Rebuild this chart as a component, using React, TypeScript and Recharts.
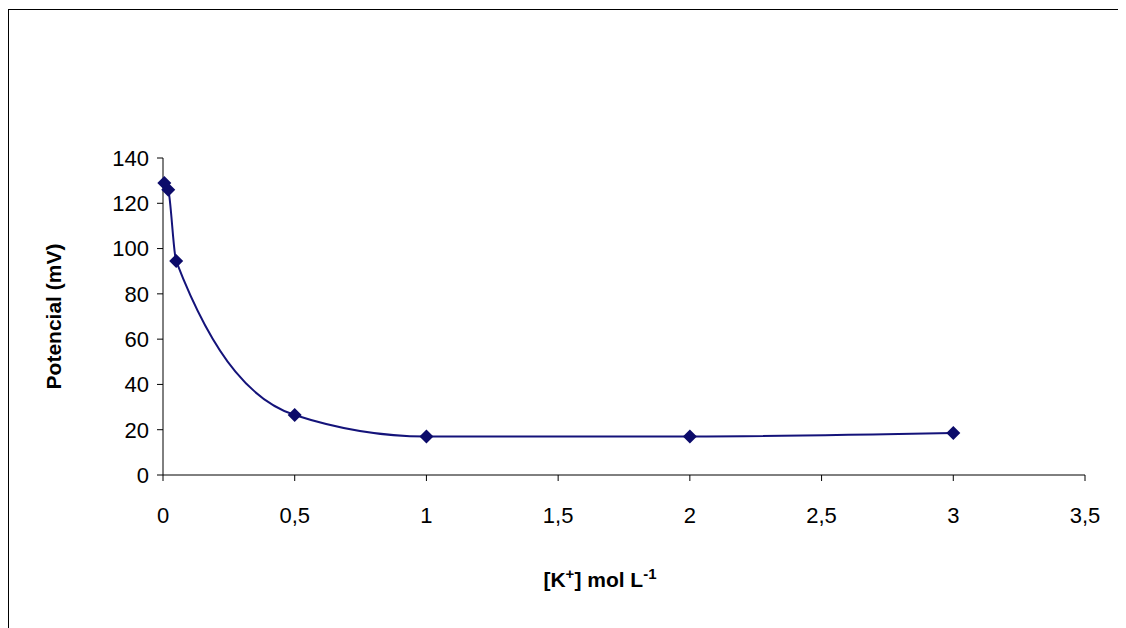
import React from 'react';
import { LineChart, Line, XAxis, YAxis } from 'recharts';

const concentrations = [0.005, 0.02, 0.05, 0.5, 1, 2, 3];
const potentials = [129, 126, 94.5, 26.5, 17, 17, 18.5];
const xTicks = [0, 0.5, 1, 1.5, 2, 2.5, 3, 3.5];
const yTicks = [0, 20, 40, 60, 80, 100, 120, 140];

const data = concentrations.map((k, i) => ({ k, mv: potentials[i] }));

const font = 'Arial, "Liberation Sans", sans-serif';
const navy = '#14137a';

const Diamond = (props: { cx?: number; cy?: number; index?: number }) => {
  const { cx = 0, cy = 0 } = props;
  const r = 7;
  return (
    <path
      key={props.index}
      d={`M${cx},${cy - r}L${cx + r},${cy}L${cx},${cy + r}L${cx - r},${cy}Z`}
      fill="#0c0b6a"
    />
  );
};

const fmt = (v: number) => String(v).replace('.', ',');

export default function App() {
  return (
    <div style={{ width: 1112, height: 620, border: '1px solid #000', marginTop: 1 }}>
      <LineChart width={1112} height={618} data={data} margin={{ top: 148, right: 36, left: 0, bottom: 0 }}>
        <XAxis
          dataKey="k"
          type="number"
          domain={[0, 3.5]}
          ticks={xTicks}
          tickFormatter={fmt}
          height={153}
          axisLine={{ stroke: '#000' }}
          tickLine={{ stroke: '#000' }}
          tickSize={6}
          tick={{ fill: '#000', fontSize: 22, fontFamily: font, dy: 24 }}
          label={({ viewBox }: any) => (
            <text
              x={viewBox.x + viewBox.width / 2 - 24}
              y={577}
              textAnchor="middle"
              fontFamily={font}
              fontSize={21}
              fontWeight="bold"
              fill="#000"
            >
              [K<tspan dy={-8} fontSize={15}>+</tspan>
              <tspan dy={8}>] mol L</tspan>
              <tspan dy={-8} fontSize={15}>-1</tspan>
            </text>
          )}
        />
        <YAxis
          type="number"
          domain={[0, 140]}
          ticks={yTicks}
          width={154}
          axisLine={{ stroke: '#000' }}
          tickLine={{ stroke: '#000' }}
          tickSize={6}
          tick={{ fill: '#000', fontSize: 22, fontFamily: font, dx: -6 }}
          label={({ viewBox }: any) => (
            <text
              x={46}
              y={viewBox.y + viewBox.height / 2}
              transform={`rotate(-90 46 ${viewBox.y + viewBox.height / 2})`}
              textAnchor="middle"
              dominantBaseline="middle"
              fontFamily={font}
              fontSize={21}
              fontWeight="bold"
              fill="#000"
            >
              Potencial (mV)
            </text>
          )}
        />
        <Line
          dataKey="mv"
          type="monotoneX"
          stroke={navy}
          strokeWidth={2}
          dot={<Diamond />}
          activeDot={false}
          isAnimationActive={false}
        />
      </LineChart>
    </div>
  );
}
